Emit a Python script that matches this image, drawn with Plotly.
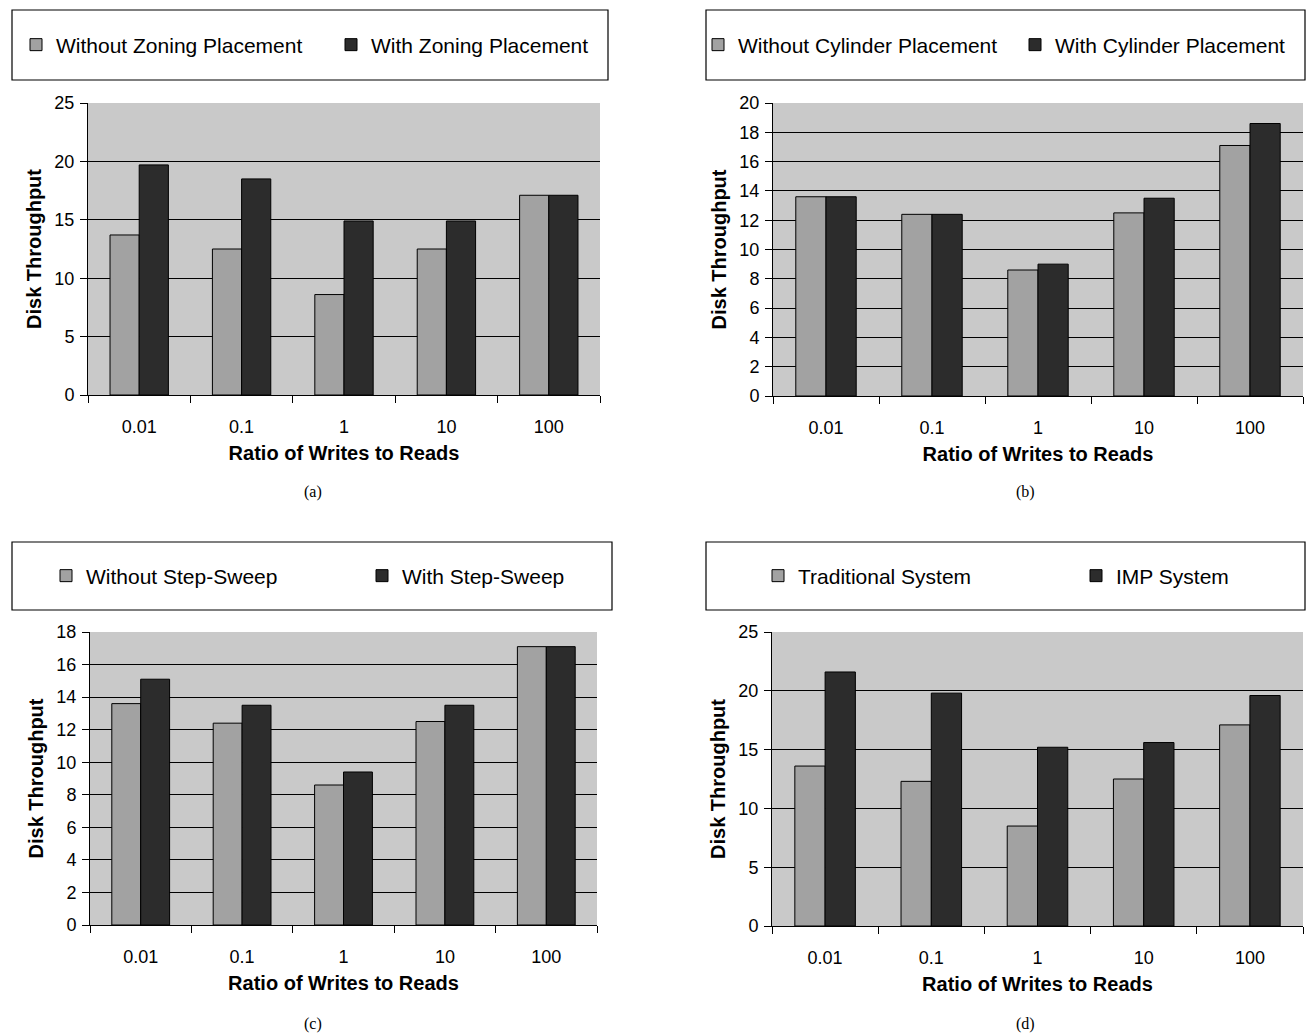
import plotly.graph_objects as go

categories = ["0.01", "0.1", "1", "10", "100"]

a_without = [13.7, 12.5, 8.6, 12.5, 17.1]
a_with = [19.7, 18.5, 14.9, 14.9, 17.1]
b_without = [13.6, 12.4, 8.6, 12.5, 17.1]
b_with = [13.6, 12.4, 9.0, 13.5, 18.6]
c_without = [13.6, 12.4, 8.6, 12.5, 17.1]
c_with = [15.1, 13.5, 9.4, 13.5, 17.1]
d_trad = [13.6, 12.3, 8.5, 12.5, 17.1]
d_imp = [21.6, 19.8, 15.2, 15.6, 19.6]

names = [
    ("Without Zoning Placement", "With Zoning Placement"),
    ("Without Cylinder Placement", "With Cylinder Placement"),
    ("Without Step-Sweep", "With Step-Sweep"),
    ("Traditional System", "IMP System"),
]
series = [(a_without, a_with), (b_without, b_with), (c_without, c_with), (d_trad, d_imp)]
yranges = [(25, 5), (20, 2), (18, 2), (25, 5)]
captions = ["(a)", "(b)", "(c)", "(d)"]

W, H = 1306, 1036
LIGHT = "#a2a2a2"
DARK = "#2c2c2c"
BG = "#c9c9c9"
FONT = "Liberation Sans"

# pixel layout of each panel: plot left, right, top, bottom; legend box; legend square px
panels = [
    dict(l=88, r=600, t=103, b=395, box=(12, 608, 10, 80), sq1=38, sq2=353, cap=(313, 492)),
    dict(l=773, r=1303, t=103, b=396, box=(706, 1305, 10, 80), sq1=720, sq2=1037, cap=(1025, 492)),
    dict(l=90, r=597, t=632, b=925, box=(12, 612, 542, 610), sq1=68, sq2=384, cap=(313, 1024)),
    dict(l=772, r=1303, t=632, b=926, box=(706, 1305, 542, 610), sq1=780, sq2=1098, cap=(1025, 1024)),
]

fig = go.Figure()
shapes = []
annotations = []
layout = dict(
    width=W, height=H,
    margin=dict(l=0, r=0, t=0, b=0, autoexpand=False),
    paper_bgcolor="white",
    plot_bgcolor=BG,
    barmode="group",
    bargap=0.43,
    bargroupgap=0,
    font=dict(family=FONT, color="black", size=18),
)

for i, p in enumerate(panels):
    k = "" if i == 0 else str(i + 1)
    leg = "legend" + k
    lo, hi = series[i]
    n1, n2 = names[i]
    step = p["sq2"] - p["sq1"]
    fig.add_trace(go.Bar(x=categories, y=lo, name=n1,
                         marker=dict(color=LIGHT, line=dict(color="black", width=1)),
                         xaxis="x" + k, yaxis="y" + k, legend=leg, legendwidth=step - 45))
    fig.add_trace(go.Bar(x=categories, y=hi, name=n2,
                         marker=dict(color=DARK, line=dict(color="black", width=1)),
                         xaxis="x" + k, yaxis="y" + k, legend=leg))
    ymax, dt = yranges[i]
    layout["xaxis" + k] = dict(
        domain=[p["l"] / W, p["r"] / W], anchor="y" + k, type="category",
        showline=True, linecolor="black", linewidth=1, mirror=False,
        ticks="outside", tickson="boundaries", ticklen=7, tickcolor="black",
        showgrid=False, tickfont=dict(size=18, family=FONT), ticklabelstandoff=15,
        title=dict(text="Ratio of Writes to Reads", font=dict(size=20, family=FONT, weight="bold"), standoff=10),
        automargin=False, fixedrange=True,
    )
    layout["yaxis" + k] = dict(
        domain=[1 - p["b"] / H, 1 - p["t"] / H], anchor="x" + k,
        range=[0, ymax], dtick=dt, tick0=0,
        showline=True, linecolor="black", linewidth=1,
        ticks="outside", ticklen=7, tickcolor="black",
        showgrid=True, gridcolor="black", gridwidth=1, zeroline=False,
        tickfont=dict(size=18, family=FONT), ticklabelstandoff=2,
        title=dict(text="Disk Throughput", font=dict(size=20, family=FONT, weight="bold"), standoff=7),
        automargin=False, fixedrange=True,
    )
    x0, x1, y0, y1 = p["box"]
    shapes.append(dict(type="rect", xref="paper", yref="paper", x0=x0 / W, x1=x1 / W,
                       y0=1 - y1 / H, y1=1 - y0 / H, line=dict(color="black", width=1.2),
                       fillcolor="rgba(0,0,0,0)", layer="above"))
    layout[leg] = dict(
        x=(p["sq1"] - 22) / W, xanchor="left",
        y=1 - ((y0 + y1) / 2) / H, yanchor="middle",
        orientation="h",
        bgcolor="rgba(0,0,0,0)", borderwidth=0,
        font=dict(size=21, family=FONT), itemwidth=30, traceorder="normal",
    )
    annotations.append(dict(text=captions[i], xref="paper", yref="paper",
                            x=p["cap"][0] / W, y=1 - p["cap"][1] / H,
                            showarrow=False, xanchor="center", yanchor="middle",
                            font=dict(family="Liberation Serif", size=16)))

layout["shapes"] = shapes
layout["annotations"] = annotations
fig.update_layout(**layout)
fig.write_html("out.html",
               config={"displayModeBar": False},
               post_script="document.body.style.margin='0px';document.body.style.overflow='hidden';")
